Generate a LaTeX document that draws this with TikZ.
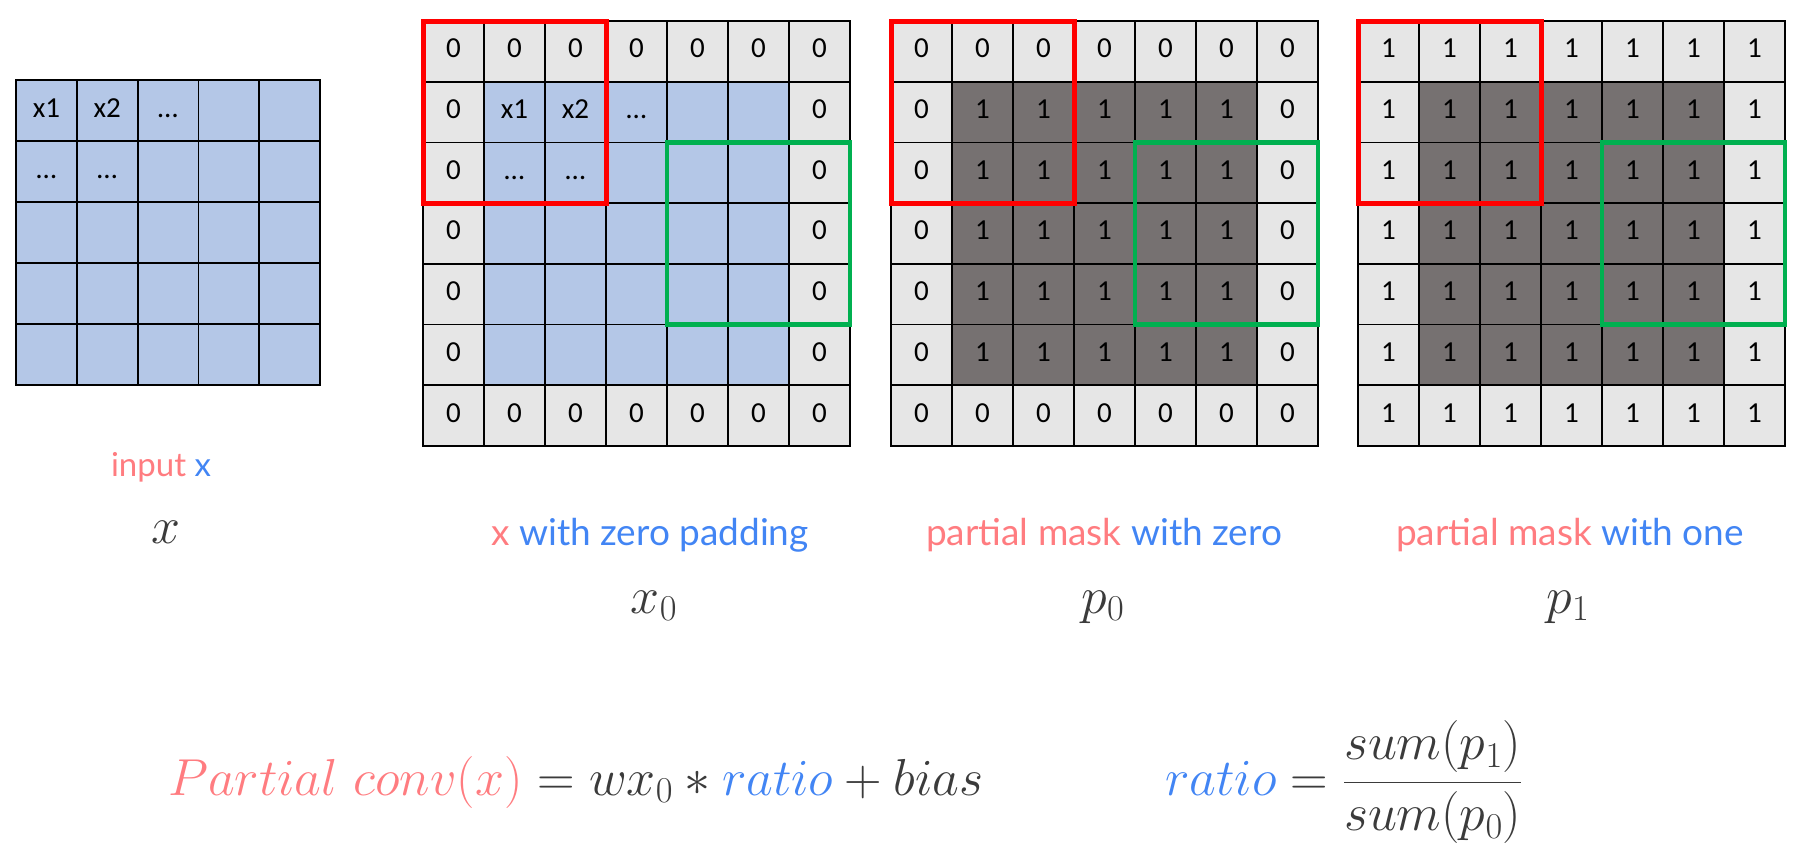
\RequirePackage{fix-cm}
\documentclass[tikz,border=0pt]{standalone}
\usepackage{fontspec}
\newfontfamily\cellfont{Carlito}
\newfontfamily\labfont{Lato}
\definecolor{cblue}{HTML}{B4C7E7}
\definecolor{cgray}{HTML}{E6E6E6}
\definecolor{cdark}{HTML}{767171}
\definecolor{lred}{HTML}{FF7C80}
\definecolor{lblue}{HTML}{4285F4}
\definecolor{mgray}{HTML}{3B3B3B}
\definecolor{bred}{HTML}{FF0000}
\definecolor{bgreen}{HTML}{00B050}
\tikzset{
  cellbox/.style={draw=black, line width=1.8pt, minimum width=61pt, minimum height=60.7pt,
    inner sep=0pt, outer sep=0pt, font=\cellfont\fontsize{29}{30}\selectfont,
    text height=18pt, text depth=5pt},
  celltxt/.style={inner sep=0pt, outer sep=0pt, font=\cellfont\fontsize{29}{30}\selectfont,
    text height=18pt, text depth=5pt},
  winred/.style={draw=bred, line width=5pt},
  wingreen/.style={draw=bgreen, line width=4.5pt},
  lab/.style={font=\labfont\fontsize{37}{42}\selectfont, inner sep=0pt},
  mathlab/.style={font=\fontsize{52}{60}\selectfont, text=mgray, inner sep=0pt},
}
\newcommand\padgrid[5]{%
  \foreach \r in {0,...,6}{\foreach \c in {0,...,6}{%
    \pgfmathtruncatemacro\isb{or(or(\r==0,\r==6),or(\c==0,\c==6))}%
    \ifnum\isb=1
      \node[cellbox, fill=cgray] (#1-\r-\c) at ({#2+61*\c+30.5},{21+60.7*\r+30.35}) {#4};
    \else
      \node[cellbox, fill=#3] (#1-\r-\c) at ({#2+61*\c+30.5},{21+60.7*\r+30.35}) {#5};
    \fi
  }}%
}
\begin{document}
\begin{tikzpicture}[x=1pt,y=-1pt]
\useasboundingbox (0,0) rectangle (1797,852);

% input grid
\foreach \r in {0,...,4}{\foreach \c in {0,...,4}{%
  \node[cellbox, fill=cblue, minimum width=60.8pt, minimum height=61pt] (a-\r-\c)
    at ({16+60.8*\c+30.4},{80+61*\r+30.5}) {};
}}
\node[celltxt] (a-t1) at (a-0-0) {x1};
\node[celltxt] (a-t2) at (a-0-1) {x2};
\node[celltxt] (a-t3) at (a-0-2) {…};
\node[celltxt] (a-t4) at (a-1-0) {…};
\node[celltxt] (a-t5) at (a-1-1) {…};

% padded x
\padgrid{b}{423}{cblue}{0}{}
\node[celltxt] (b-t1) at (b-1-1) {x1};
\node[celltxt] (b-t2) at (b-1-2) {x2};
\node[celltxt] (b-t3) at (b-1-3) {…};
\node[celltxt] (b-t4) at (b-2-1) {…};
\node[celltxt] (b-t5) at (b-2-2) {…};
\draw[winred] (b-0-0.north west) rectangle (b-2-2.south east);
\draw[wingreen] (b-2-4.north west) rectangle (b-4-6.south east);

% mask with zero
\padgrid{c}{891}{cdark}{0}{1}
\draw[winred] (c-0-0.north west) rectangle (c-2-2.south east);
\draw[wingreen] (c-2-4.north west) rectangle (c-4-6.south east);

% mask with one
\padgrid{d}{1358}{cdark}{1}{1}
\draw[winred] (d-0-0.north west) rectangle (d-2-2.south east);
\draw[wingreen] (d-2-4.north west) rectangle (d-4-6.south east);

% labels
\node[lab, font=\labfont\fontsize{33}{38}\selectfont] (l1) at (161,467) {\textcolor{lred}{input} \textcolor{lblue}{x}};
\node[mathlab, anchor=base] (m1) at (166,543) {$x$};
\node[lab] (l2) at (650,535) {\textcolor{lred}{x} \textcolor{lblue}{with zero padding}};
\node[mathlab, anchor=base] (m2) at (654,613) {$x_0$};
\node[lab] (l3) at (1104,535) {\textcolor{lred}{partial mask} \textcolor{lblue}{with zero}};
\node[mathlab, anchor=base] (m3) at (1103,613) {$p_0$};
\node[lab] (l4) at (1570,535) {\textcolor{lred}{partial mask} \textcolor{lblue}{with one}};
\node[mathlab, anchor=base] (m4) at (1568,613) {$p_1$};

% formulas
\node[mathlab, anchor=base west] (f1) at (168,795)
  {${\color{lred}Partial\ conv(x)} = wx_0 * {\color{lblue}ratio} + bias$};
\node[mathlab, anchor=base west] (f2) at (1165,795)
  {${\color{lblue}ratio} = {\displaystyle\frac{sum(p_1)}{sum(p_0)}}$};
\end{tikzpicture}
\end{document}
